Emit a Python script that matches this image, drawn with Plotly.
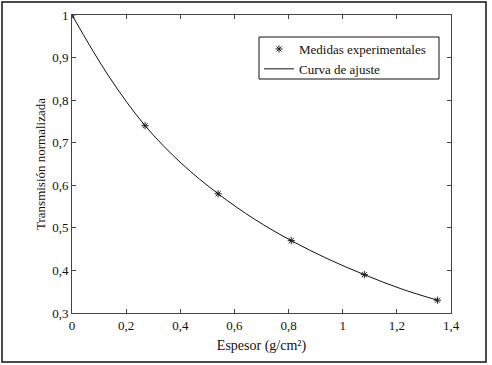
import plotly.graph_objects as go

# Experimental measurements
espesor = [0.0, 0.27, 0.54, 0.81, 1.08, 1.35]
transmision = [1.0, 0.74, 0.58, 0.47, 0.39, 0.33]

# Fitted curve
curva_x = [0.0, 0.135, 0.27, 0.405, 0.54, 0.675, 0.81, 0.945, 1.08, 1.215, 1.35]
curva_y = [1.0, 0.857, 0.74, 0.651, 0.58, 0.520, 0.47, 0.427, 0.39, 0.357, 0.33]

x_ticks = [0, 0.2, 0.4, 0.6, 0.8, 1.0, 1.2, 1.4]
y_ticks = [0.3, 0.4, 0.5, 0.6, 0.7, 0.8, 0.9, 1.0]

W, H = 492, 365
L, R, T, B = 72, 41, 15, 52
pw, ph = W - L - R, H - T - B

font = dict(family='"Liberation Serif", "Times New Roman", serif', size=13, color="#111")
title_font = dict(family='"Liberation Serif", "Times New Roman", serif', size=14, color="#111")

fig = go.Figure()
fig.add_trace(go.Scatter(
    x=espesor, y=transmision, mode="markers", name="Medidas experimentales",
    marker=dict(symbol="asterisk-open", size=6, color="#222", line=dict(width=1, color="#222")),
))
fig.add_trace(go.Scatter(
    x=curva_x, y=curva_y, mode="lines", name="Curva de ajuste",
    line=dict(color="#111", width=1, shape="spline"),
))

axis_common = dict(
    showline=True, linecolor="#444", linewidth=1, mirror="ticks",
    ticks="inside", ticklen=4, tickcolor="#444", showgrid=False, zeroline=False,
    tickfont=font, automargin=False,
)
fig.update_xaxes(range=[0, 1.4], tickvals=x_ticks,
                 title=dict(text="Espesor (g/cm²)", font=title_font, standoff=8), **axis_common)
fig.update_yaxes(range=[0.3, 1.0], tickvals=y_ticks,
                 title=dict(text="Transmisión normalizada", font=font, standoff=3), **axis_common)

# outer frame
fig.add_shape(type="rect", xref="paper", yref="paper",
              x0=(2 - L) / pw, x1=(486 - L) / pw,
              y0=(H - B - 362) / ph, y1=(H - B - 2) / ph,
              line=dict(color="#111", width=1.5))
# legend box
fig.add_shape(type="rect", xref="paper", yref="paper",
              x0=(259 - L) / pw, x1=(439 - L) / pw,
              y0=(H - B - 79) / ph, y1=(H - B - 37) / ph,
              line=dict(color="#111", width=1), fillcolor="white", layer="below")

fig.update_layout(
    width=W, height=H, margin=dict(l=L, r=R, t=T, b=B),
    paper_bgcolor="white", plot_bgcolor="white",
    separators=",.", font=font,
    showlegend=True,
    legend=dict(x=(259 - L) / pw, y=(H - B - 34) / ph, xanchor="left", yanchor="top",
                borderwidth=0, bgcolor="rgba(0,0,0,0)",
                font=font, tracegroupgap=0, itemwidth=30),
)
fig.write_html("out.html", config={"displayModeBar": False},
               post_script="document.body.style.margin='0';document.body.style.padding='0';")
